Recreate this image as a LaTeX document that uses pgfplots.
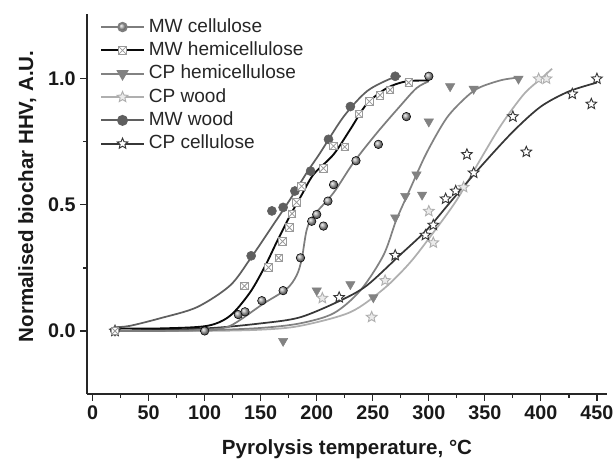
\documentclass[border=0pt]{standalone}
\usepackage{fontspec}
\setmainfont{Liberation Sans}
\usepackage{pgfplots}
\pgfplotsset{compat=1.18}
\definecolor{cMWc}{RGB}{125,125,125}
\definecolor{cMWh}{RGB}{10,10,10}
\definecolor{cCPh}{RGB}{130,130,130}
\definecolor{cCPw}{RGB}{175,175,175}
\definecolor{cMWw}{RGB}{95,95,95}
\definecolor{cCPc}{RGB}{55,55,55}
\pgfdeclareplotmark{boxx}{%
 \pgfpathrectangle{\pgfqpoint{-\pgfplotmarksize}{-\pgfplotmarksize}}{\pgfqpoint{2\pgfplotmarksize}{2\pgfplotmarksize}}%
 \pgfusepathqfillstroke
 \pgfpathmoveto{\pgfqpoint{-\pgfplotmarksize}{-\pgfplotmarksize}}\pgfpathlineto{\pgfqpoint{\pgfplotmarksize}{\pgfplotmarksize}}%
 \pgfpathmoveto{\pgfqpoint{-\pgfplotmarksize}{\pgfplotmarksize}}\pgfpathlineto{\pgfqpoint{\pgfplotmarksize}{-\pgfplotmarksize}}%
 \pgfusepathqstroke}
\pgfdeclareplotmark{pstar}{%
 \pgfpathmoveto{\pgfpointpolar{90}{\pgfplotmarksize}}%
 \pgfpathlineto{\pgfpointpolar{126}{0.45\pgfplotmarksize}}%
 \pgfpathlineto{\pgfpointpolar{162}{\pgfplotmarksize}}%
 \pgfpathlineto{\pgfpointpolar{198}{0.45\pgfplotmarksize}}%
 \pgfpathlineto{\pgfpointpolar{234}{\pgfplotmarksize}}%
 \pgfpathlineto{\pgfpointpolar{270}{0.45\pgfplotmarksize}}%
 \pgfpathlineto{\pgfpointpolar{306}{\pgfplotmarksize}}%
 \pgfpathlineto{\pgfpointpolar{342}{0.45\pgfplotmarksize}}%
 \pgfpathlineto{\pgfpointpolar{18}{\pgfplotmarksize}}%
 \pgfpathlineto{\pgfpointpolar{54}{0.45\pgfplotmarksize}}%
 \pgfpathclose
 \pgfusepathqfillstroke}
\begin{document}
\begin{tikzpicture}
\useasboundingbox (0,0) rectangle (459.75pt,345pt);
\begin{axis}[
  at={(65.25pt,49.5pt)}, anchor=south west,
  width=390pt, height=285pt, scale only axis,
  xmin=-5, xmax=459, ymin=-0.25, ymax=1.257,
  axis x line*=bottom, axis y line*=left,
  axis line style={line width=1.1pt, color=black!85},
  every tick/.style={line width=0.9pt, color=black!85},
  tick align=outside,
  major tick length=5pt, minor tick length=3pt,
  xtick={0,50,...,450}, minor x tick num=1,
  ytick={0,0.5,1}, minor y tick num=1,
  /pgf/number format/assume math mode=true,
  yticklabel style={/pgf/number format/.cd, fixed, fixed zerofill, precision=1},
  xticklabel style={/pgf/number format/.cd, fixed},
  ticklabel style={font=\bfseries\fontsize{14.8}{16}\selectfont, color=black!90},
  xlabel={Pyrolysis temperature, °C},
  ylabel={Normalised biochar HHV, A.U.},
  xlabel style={at={(axis description cs:0.5,-0.1447)}, anchor=center, font=\bfseries\fontsize{15.4}{18}\selectfont, color=black!90},
  ylabel style={at={(axis description cs:-0.115,0.52)}, anchor=center, font=\bfseries\fontsize{15.4}{18}\selectfont, color=black!90},
  legend image code/.code={\draw[mark repeat=2,mark phase=2,#1] plot coordinates {(0pt,0pt) (16pt,0pt) (32pt,0pt)};},
  legend style={at={(axis description cs:0.025,0.99)}, anchor=north west, draw=none, fill=none,
    font=\fontsize{14.3}{16}\selectfont, text=black!85, row sep=4pt, inner sep=0pt,
    nodes={inner ysep=0pt, inner xsep=3pt, text height=10.5pt, text depth=3pt}},
  legend cell align=left,
  clip=false,
]
% ---- legend images
\addlegendimage{cMWc, line width=1.4pt, mark=ball, mark size=3.2pt, mark options={ball color=gray!70}}
\addlegendentry{MW cellulose}
\addlegendimage{cMWh, line width=1.4pt, mark=boxx, mark size=2.8pt, mark options={fill=white, draw=gray!80, line width=0.6pt}}
\addlegendentry{MW hemicellulose}
\addlegendimage{cCPh, line width=1.4pt, mark=triangle*, mark size=4pt, mark options={rotate=180, fill=cCPh, draw=cCPh}}
\addlegendentry{CP hemicellulose}
\addlegendimage{cCPw, line width=1.4pt, mark=pstar, mark size=4.2pt, mark options={fill=black!8, draw=cCPw, line width=0.7pt}}
\addlegendentry{CP wood}
\addlegendimage{cMWw, line width=1.4pt, mark=*, mark size=3.4pt, mark options={fill=cMWw, draw=cMWw}}
\addlegendentry{MW wood}
\addlegendimage{cCPc, line width=1.4pt, mark=pstar, mark size=4.2pt, mark options={fill=white, draw=cCPc, line width=0.7pt}}
\addlegendentry{CP cellulose}

% ---- fitted curves
\addplot[forget plot, cCPw, line width=1.3pt, smooth] coordinates {
 (20,0.0) (100,0.0) (150,0.005) (185,0.02) (229.7,0.074) (259.5,0.166) (283,0.27) (304,0.39)
 (325,0.52) (346,0.68) (365,0.82) (385,0.94) (400,1.0) (410,1.04)};
\addplot[forget plot, cCPh, line width=1.3pt, smooth] coordinates {
 (20,0.0) (100,0.003) (150,0.012) (185,0.03) (215,0.07) (238.8,0.16) (259.5,0.30) (271,0.44)
 (283,0.56) (298,0.706) (316,0.845) (334,0.93) (346,0.967) (365,0.995) (380,1.005)};
\addplot[forget plot, cCPc, line width=1.3pt, smooth] coordinates {
 (20,0.0) (100,0.01) (150,0.03) (185,0.054) (220.8,0.12) (244.6,0.18) (274,0.30) (298,0.40)
 (319,0.51) (346,0.65) (375,0.79) (400,0.89) (425,0.95) (450,0.985)};
\addplot[forget plot, cMWc, line width=1.3pt, smooth] coordinates {
 (20,0.0) (60,0.0) (100,0.005) (122.6,0.02) (152,0.107) (173,0.166) (182,0.22) (186.6,0.285)
 (191,0.40) (197,0.456) (215,0.548) (232.7,0.667) (253.6,0.785) (274,0.89) (289,0.963) (300,0.99)};
\addplot[forget plot, cMWw, line width=1.3pt, smooth] coordinates {
 (20,0.015) (33,0.02) (60,0.05) (93,0.094) (122.6,0.18) (140.5,0.285) (158,0.40) (176,0.52)
 (191,0.627) (203,0.706) (224,0.85) (244.6,0.95) (265.5,1.0) (275,1.01)};
\addplot[forget plot, cMWh, line width=1.4pt, smooth] coordinates {
 (20,0.01) (60,0.01) (102,0.02) (122.6,0.06) (140.5,0.153) (154,0.258) (164,0.35) (176,0.456)
 (186,0.535) (197,0.62) (215,0.70) (230,0.80) (244.6,0.90) (262.5,0.963) (280,0.99) (300,0.993)};

% ---- data points
\addplot[forget plot, only marks, mark=pstar, mark size=4.2pt, mark options={fill=black!8, draw=cCPw, line width=0.7pt}] coordinates {
 (20,0.0) (205,0.13) (249,0.055) (261,0.20) (300,0.475) (304,0.35) (331,0.57) (398,1.0) (405,1.0)};
\addplot[forget plot, only marks, mark=triangle*, mark size=4pt, mark options={rotate=180, fill=cCPh, draw=cCPh}] coordinates {
 (20,0.0) (170,-0.04) (200,0.16) (230,0.185) (250.5,0.133) (270,0.45) (279,0.535) (289,0.62)
 (294,0.54) (300,0.83) (319,0.97) (340,0.96) (380,1.0)};
\addplot[forget plot, only marks, mark=pstar, mark size=4.2pt, mark options={fill=white, draw=cCPc, line width=0.7pt}] coordinates {
 (20,0.0) (220,0.133) (270,0.30) (297,0.38) (304,0.42) (315,0.524) (324,0.555) (334,0.70)
 (340,0.627) (375,0.85) (387,0.71) (428,0.94) (445,0.90) (450,1.0)};
\addplot[forget plot, only marks, mark=ball, mark size=3.2pt, mark options={ball color=gray!70}] coordinates {
 (20,0.0) (100,0.0) (130,0.065) (136,0.076) (151,0.12) (170,0.16) (185.5,0.29) (195.5,0.435)
 (200,0.462) (206,0.416) (210,0.515) (215,0.58) (235,0.675) (255,0.74) (280,0.85) (300,1.01)};
\addplot[forget plot, only marks, mark=*, mark size=3.4pt, mark options={fill=cMWw, draw=cMWw}] coordinates {
 (20,0.0) (141.5,0.298) (160,0.476) (170,0.49) (180.5,0.555) (194.5,0.634) (210.5,0.76) (230,0.89) (270,1.01)};
\addplot[forget plot, only marks, mark=boxx, mark size=2.8pt, mark options={fill=white, draw=gray!80, line width=0.6pt}] coordinates {
 (20,0.0) (135.5,0.178) (157,0.252) (166,0.29) (169.5,0.355) (175.5,0.41) (178,0.465) (182,0.51)
 (186.5,0.574) (206,0.645) (215,0.733) (225,0.73) (237.5,0.86) (247,0.91) (256.5,0.935)
 (265.5,0.956) (282,0.985)};
\end{axis}
\end{tikzpicture}
\end{document}
